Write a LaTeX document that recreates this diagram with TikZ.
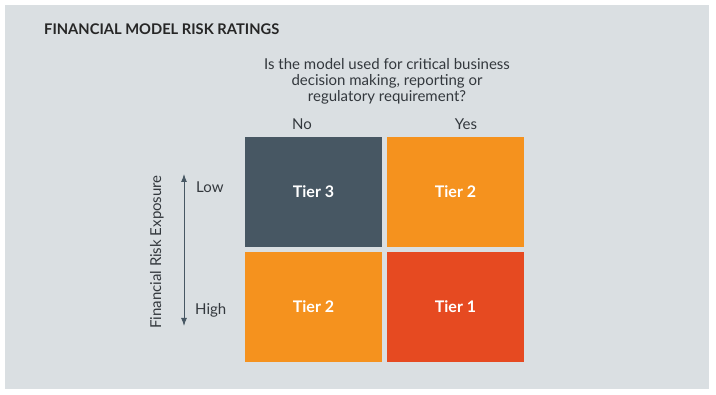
\documentclass[tikz,border=0pt]{standalone}
\usepackage{fontspec}
\setmainfont{Lato}
\usetikzlibrary{arrows.meta}
\definecolor{bg}{HTML}{DADFE2}
\definecolor{slate}{HTML}{475763}
\definecolor{orng}{HTML}{F5921E}
\definecolor{redo}{HTML}{E64A21}
\definecolor{txt}{HTML}{33383D}
\begin{document}
\begin{tikzpicture}[x=1pt,y=-1pt,
  cell/.style={minimum width=137pt,minimum height=110pt,inner sep=0pt,text=white,font=\fontsize{16}{18}\selectfont\bfseries,text depth=-2pt},
  lab/.style={text=txt,font=\fontsize{15}{16}\selectfont,inner sep=0pt}]
\useasboundingbox (0,0) rectangle (716,395);
\fill[bg] (5,5) rectangle (709,389);
\node[anchor=west,text=black!85,font=\fontsize{14.7}{16}\selectfont\bfseries,inner sep=0pt] (title) at (44,29) {FINANCIAL MODEL RISK RATINGS};
\node[lab,align=center] (q) at (387,81) {Is the model used for critical business\\decision making, reporting or\\regulatory requirement?};
\node[lab] (no) at (302,124) {No};
\node[lab] (yes) at (466,124) {Yes};
\node[cell,fill=slate] (c11) at (313.5,192) {Tier 3};
\node[cell,fill=orng] (c12) at (455.5,192) {Tier 2};
\node[cell,fill=orng] (c21) at (313.5,307) {Tier 2};
\node[cell,fill=redo] (c22) at (455.5,307) {Tier 1};
\coordinate (atop) at (184,174);
\coordinate (abot) at (184,326);
\draw[slate,line width=1pt,{Latex[length=8pt,width=6pt]}-{Latex[length=8pt,width=6pt]}] (atop) -- (abot);
\node[lab,anchor=west] (low) at (196,187) {Low};
\node[lab,anchor=west] (high) at (195,310) {High};
\node[lab,rotate=90] (fre) at (157,252) {Financial Risk Exposure};
\end{tikzpicture}
\end{document}
